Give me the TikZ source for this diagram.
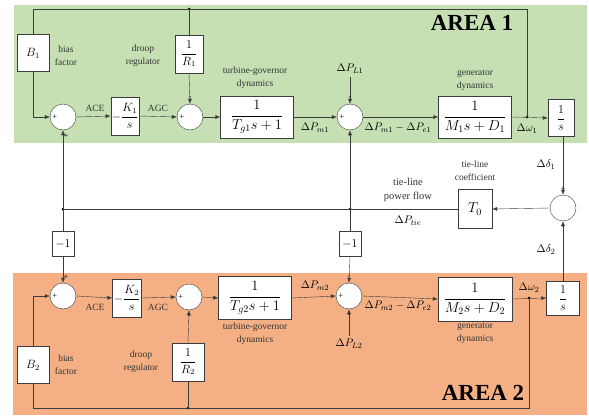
\documentclass[tikz,border=0pt]{standalone}
\usepackage{amsmath}
\usepackage{fontspec}
\setmainfont{Liberation Serif}
\usetikzlibrary{arrows.meta}
\definecolor{areagreen}{RGB}{198,224,180}
\definecolor{areaorange}{RGB}{244,176,132}
\definecolor{ln}{RGB}{60,60,60}
\tikzset{
  blk/.style={draw=ln, fill=white, inner sep=1pt, font=\fontsize{14.4}{16}\selectfont},
  sblk/.style={draw=ln, fill=white, inner sep=1pt, font=\fontsize{12}{14}\selectfont},
  sumc/.style={circle, draw=ln, fill=white, minimum size=26pt, inner sep=0pt},
  lab/.style={align=center, font=\fontsize{9.5}{13}\selectfont, text=black!80, inner sep=0pt},
  mlab/.style={font=\fontsize{10.95}{13}\selectfont, inner sep=0pt},
  sgn/.style={font=\fontsize{8.5}{8.5}\selectfont, inner sep=0pt},
  arr/.style={draw=ln, -{Latex[length=5pt,width=4pt]}},
  wire/.style={draw=ln},
  jdot/.style={circle, fill=black, inner sep=0pt, minimum size=3pt},
  areatxt/.style={font=\fontsize{23}{25}\selectfont\bfseries, inner sep=0pt}
}
\begin{document}
\begin{tikzpicture}[x=1pt,y=-1pt]
\useasboundingbox (0,0) rectangle (589,415);
\fill[areagreen] (14,5) rectangle (587,143);
\fill[areaorange] (13,273) rectangle (587,415);
\node[areatxt] (A1) at (472,23) {AREA 1};
\node[areatxt] (A2) at (483,393) {AREA 2};

% ---------- AREA 1 ----------
\node[sblk, minimum width=32pt, minimum height=37pt] (B1) at (33,53) {$B_1$};
\node[sumc] (s1) at (63,117) {};
\node[sblk, minimum width=27pt, minimum height=38pt] (K1) at (125,116) {$-\dfrac{K_1}{s}$};
\node[sumc] (s2) at (190,117) {};
\node[sblk, minimum width=28pt, minimum height=38pt] (R1) at (189,54) {$\dfrac{1}{R_1}$};
\node[blk, minimum width=73pt, minimum height=42pt] (T1) at (257,117) {$\dfrac{1}{T_{g1}s+1}$};
\node[sumc] (s3) at (350,117) {};
\node[blk, minimum width=73pt, minimum height=42pt] (G1) at (475,117) {$\dfrac{1}{M_1s+D_1}$};
\node[sblk, minimum width=26pt, minimum height=37pt] (I1) at (561,118) {$\dfrac{1}{s}$};
\node[jdot] (w1) at (527,117) {};
\node[jdot] (top) at (189,9) {};
\coordinate (tl) at (33,9);
\coordinate (tr) at (527,9);
\coordinate (b1c) at (33,117);

\node[lab] (bf1) at (66,56) {bias\\factor};
\node[lab] (dr1) at (143,56) {droop\\regulator};
\node[lab] (tg1) at (255,78) {turbine-governor\\dynamics};
\node[lab] (gd1) at (475,80) {generator\\dynamics};
\node[lab] (ace1) at (95,108) {ACE};
\node[lab] (agc1) at (158,108) {AGC};
\node[mlab] (pm1) at (315,128) {$\Delta P_{m1}$};
\node[mlab] (pme1) at (398,128) {$\Delta P_{m1}-\Delta P_{e1}$};
\node[mlab] (om1) at (527,129) {$\Delta\omega_1$};
\node[mlab] (pl1) at (350,69) {$\Delta P_{L1}$};

\draw[wire] (w1.center) -- (tr) -- (tl) -- (B1.north);
\draw[wire] (top.center) -- (R1.north);
\draw[arr] (B1.south) -- (b1c) -- (s1.west);
\draw[arr] (s1.east) -- (K1.west);
\draw[arr] (K1.east) -- (s2.west);
\draw[arr] (R1.south) -- (s2.north);
\draw[arr] (s2.east) -- (T1.west);
\draw[arr] (T1.east) -- (s3.west);
\draw[arr] (pl1.south) ++(0,3) -- (s3.north);
\draw[arr] (s3.east) -- (G1.west);
\draw[arr] (G1.east) -- (I1.west);

\node[sgn] at ([xshift=5pt]s1.west) {+};
\node[sgn] at ([yshift=-6pt,xshift=3pt]s1.south) {+};
\node[sgn] at ([xshift=5pt]s2.west) {+};
\node[sgn] at ([yshift=5pt]s2.north) {-};
\node[sgn] at ([xshift=5pt]s3.west) {+};
\node[sgn] at ([yshift=5pt]s3.north) {-};
\node[sgn] at ([yshift=-6pt]s3.south) {-};

% ---------- TIE LINE ----------
\node[sumc] (st) at (563,208) {};
\node[blk, minimum width=34pt, minimum height=39pt] (T0) at (475,209) {$T_0$};
\node[sblk, minimum width=22pt, minimum height=25pt] (M1) at (63,244) {$-1$};
\node[sblk, minimum width=22pt, minimum height=25pt] (M2) at (350,244) {$-1$};
\node[jdot] (j1) at (63,209) {};
\node[jdot] (j2) at (350,209) {};
\node[lab] (tlc) at (475,171) {tie-line\\coefficient};
\node[lab, font=\fontsize{10.5}{14}\selectfont] (tpf) at (408,190) {tie-line\\power flow};
\node[mlab] (ptie) at (408,221) {$\Delta P_{tie}$};
\node[mlab] (d1) at (546,165) {$\Delta\delta_1$};
\node[mlab] (d2) at (546,250) {$\Delta\delta_2$};
\node[sgn] at ([yshift=6pt]st.north) {+};
\node[sgn] at ([yshift=-6pt]st.south) {-};

\draw[arr] (I1.south -| st.north) -- (st.north);
\draw[arr] (st.west) -- (T0.east);
\draw[wire] (T0.west) -- (j1.center);
\draw[arr] (j1.center) -- (s1.south);
\draw[arr] (j2.center) -- (s3.south);
\draw[wire] (j1.center) -- (M1.north);
\draw[wire] (j2.center) -- (M2.north);

% ---------- AREA 2 ----------
\node[sumc] (s4) at (63,296) {};
\node[sblk, minimum width=29pt, minimum height=38pt] (K2) at (127,298) {$-\dfrac{K_2}{s}$};
\node[sumc] (s5) at (189,297) {};
\node[sblk, minimum width=32pt, minimum height=38pt] (R2) at (188,362) {$\dfrac{1}{R_2}$};
\node[sblk, minimum width=32pt, minimum height=37pt] (B2) at (33,365) {$B_2$};
\node[blk, minimum width=73pt, minimum height=43pt] (T2) at (255,298) {$\dfrac{1}{T_{g2}s+1}$};
\node[sumc] (s6) at (349,296) {};
\node[blk, minimum width=74pt, minimum height=44pt] (G2) at (475,299) {$\dfrac{1}{M_2s+D_2}$};
\node[sblk, minimum width=33pt, minimum height=34pt] (I2) at (563,298) {$\dfrac{1}{s}$};
\node[jdot] (w2) at (529,298) {};
\node[jdot] (bot) at (188,408) {};
\coordinate (bl) at (33,408);
\coordinate (br) at (529,408);
\coordinate (b2c) at (33,296);

\node[lab] (bf2) at (66,365) {bias\\factor};
\node[lab] (dr2) at (141,362) {droop\\regulator};
\node[lab] (tg2) at (255,334) {turbine-governor\\dynamics};
\node[lab] (gd2) at (475,333) {generator\\dynamics};
\node[lab] (ace2) at (95,307) {ACE};
\node[lab] (agc2) at (158,307) {AGC};
\node[mlab] (pm2) at (315,286) {$\Delta P_{m2}$};
\node[mlab] (pme2) at (398,306) {$\Delta P_{m2}-\Delta P_{e2}$};
\node[mlab] (om2) at (529,288) {$\Delta\omega_2$};
\node[mlab] (pl2) at (349,344) {$\Delta P_{L2}$};

\draw[arr] (M1.south) -- (s4.north);
\draw[arr] (M2.south) -- (s6.north);
\draw[arr] (B2.north) -- (b2c) -- (s4.west);
\draw[arr] (s4.east) -- (K2.west);
\draw[arr] (K2.east) -- (s5.west);
\draw[arr] (R2.north) -- (s5.south);
\draw[arr] (s5.east) -- (T2.west);
\draw[arr] (T2.east) -- (s6.west);
\draw[arr] (pl2.north) ++(0,-3) -- (s6.south);
\draw[arr] (s6.east) -- (G2.west);
\draw[arr] (G2.east) -- (I2.west);
\draw[arr] (I2.north -| st.south) -- (st.south);
\draw[wire] (w2.center) -- (br) -- (bl) -- (B2.south);
\draw[wire] (bot.center) -- (R2.south);

\node[sgn] at ([xshift=5pt]s4.west) {+};
\node[sgn] at ([yshift=6pt,xshift=3pt]s4.north) {+};
\node[sgn] at ([xshift=5pt]s5.west) {+};
\node[sgn] at ([yshift=-6pt]s5.south) {-};
\node[sgn] at ([xshift=5pt]s6.west) {+};
\node[sgn] at ([yshift=5pt]s6.north) {-};
\node[sgn] at ([yshift=-6pt]s6.south) {-};
\end{tikzpicture}
\end{document}
